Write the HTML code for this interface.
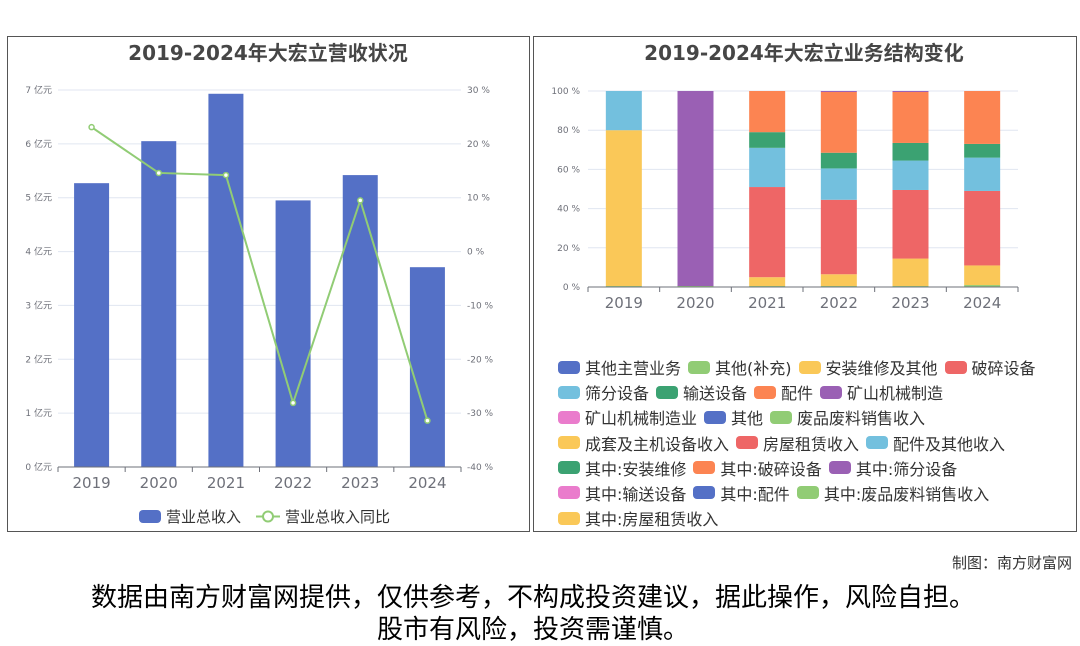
<!DOCTYPE html>
<html><head><meta charset="utf-8"><style>
body{margin:0;width:1080px;height:646px;background:#fff;font-family:"DejaVu Sans","Noto Sans CJK SC",sans-serif;position:relative;overflow:hidden}
.panel{position:absolute;border:1px solid #555;background:#fff}
.leg{position:absolute;left:558px;font-size:16px;color:#333;white-space:nowrap}
.li{display:inline-flex;align-items:center;margin-right:7px}
.sw{display:inline-block;width:22px;height:13px;border-radius:4px;margin-right:5px}
</style></head><body>
<div class="panel" style="left:7px;top:36px;width:521px;height:494px"></div>
<div class="panel" style="left:533px;top:36px;width:542px;height:494px"></div>
<svg id="c1" width="1080" height="646" style="position:absolute;left:0;top:0" font-family="DejaVu Sans, Noto Sans CJK SC, sans-serif"></svg>
<div class="leg" id="leg" style="top:355px"></div>
<div style="position:absolute;right:8px;top:552px;font-size:15px;color:#333">制图：南方财富网</div>
<div style="position:absolute;left:0;width:1066px;top:580px;text-align:center;font-size:26px;line-height:32px;color:#000;font-family:'Noto Sans CJK SC',sans-serif">数据由南方财富网提供，仅供参考，不构成投资建议，据此操作，风险自担。<br>股市有风险，投资需谨慎。</div>
<script>
const years=['2019','2020','2021','2022','2023','2024'];
const revenue=[5.27,6.05,6.93,4.95,5.42,3.71];
const growth=[23.1,14.6,14.2,-28.1,9.5,-31.4];
const leftTicks=[0,1,2,3,4,5,6,7];
const rightTicks=[-40,-30,-20,-10,0,10,20,30];
const sOther=[0.5,0.5,0.5,0.5,0.5,1];
const sInstall=[79.5,0,4.5,6,14,10];
const sCrush=[0,0,46,38,35,38];
const sScreen=[20,0,20,16,15,17];
const sConvey=[0,0,8,8,9,7];
const sParts=[0,0,21,31,26,27];
const sMining=[0,99.5,0,0.5,0.5,0];
const pctTicks=[0,20,40,60,80,100];
const legendNames=[['其他主营业务','其他(补充)','安装维修及其他','破碎设备'],['筛分设备','输送设备','配件','矿山机械制造'],['矿山机械制造业','其他','废品废料销售收入'],['成套及主机设备收入','房屋租赁收入','配件及其他收入'],['其中:安装维修','其中:破碎设备','其中:筛分设备'],['其中:输送设备','其中:配件','其中:废品废料销售收入'],['其中:房屋租赁收入']];
const pal=['#5470c6','#91cc75','#fac858','#ee6666','#73c0de','#3ba272','#fc8452','#9a60b4','#ea7ccc'];
const NS='http://www.w3.org/2000/svg';
const svg=document.getElementById('c1');
function mk(t,a,txt){const e=document.createElementNS(NS,t);for(const k in a)e.setAttribute(k,a[k]);if(txt!==undefined)e.textContent=txt;svg.appendChild(e);return e;}
let t=mk('text',{x:268,y:60,'text-anchor':'middle','font-size':20,'font-weight':'bold',fill:'#464646'},'2019-2024年大宏立营收状况');

t=mk('text',{x:804,y:60,'text-anchor':'middle','font-size':20,'font-weight':'bold',fill:'#464646'},'2019-2024年大宏立业务结构变化');

const L={x0:58,x1:461,y0:467,y1:90};
const yL=v=>L.y0-(v/7)*(L.y0-L.y1);
const yR=v=>L.y0-((v+40)/70)*(L.y0-L.y1);
const bw=(L.x1-L.x0)/years.length;
const xc=i=>L.x0+bw*(i+0.5);
leftTicks.forEach(v=>{const g=mk('line',{x1:L.x0,x2:L.x1,y1:yL(v),y2:yL(v),stroke:'#e0e6f1'});
const l=mk('text',{x:L.x0-6,y:yL(v)+3,'text-anchor':'end','font-size':9,fill:'#6e7079'},v+' 亿元');});
rightTicks.forEach(v=>{const l=mk('text',{x:L.x1+6,y:yR(v)+3,'font-size':9,fill:'#6e7079'},v+' %');});
revenue.forEach((v,i)=>{const r=mk('rect',{x:xc(i)-17.5,y:yL(v),width:35,height:L.y0-yL(v),fill:'#5470c6'});});
mk('line',{x1:L.x0,x2:L.x1,y1:L.y0,y2:L.y0,stroke:'#6e7079'});
years.forEach((y,i)=>{mk('line',{x1:L.x0+bw*i,x2:L.x0+bw*i,y1:L.y0,y2:L.y0+5,stroke:'#6e7079'});
const l=mk('text',{x:xc(i),y:L.y0+21,'text-anchor':'middle','font-size':15,fill:'#6e7079'},y);});
mk('line',{x1:L.x1,x2:L.x1,y1:L.y0,y2:L.y0+5,stroke:'#6e7079'});
const pl=mk('polyline',{points:growth.map((v,i)=>xc(i)+','+yR(v)).join(' '),fill:'none',stroke:'#91cc75','stroke-width':2});

growth.forEach((v,i)=>{const c=mk('circle',{cx:xc(i),cy:yR(v),r:2.5,fill:'#fff',stroke:'#91cc75','stroke-width':1.5});});
let r=mk('rect',{x:139,y:510,width:22,height:13,rx:4,fill:'#5470c6'});
t=mk('text',{x:166,y:522,'font-size':15,fill:'#333'},'营业总收入');
mk('line',{x1:256,x2:280,y1:516.5,y2:516.5,stroke:'#91cc75','stroke-width':2});
mk('circle',{cx:268,cy:516.5,r:5,fill:'#fff',stroke:'#91cc75','stroke-width':2});
t=mk('text',{x:285,y:522,'font-size':15,fill:'#333'},'营业总收入同比');
const R={x0:588,x1:1018,y0:287,y1:91};
const yP=v=>R.y0-(v/100)*(R.y0-R.y1);
const bw2=(R.x1-R.x0)/years.length;
const xc2=i=>R.x0+bw2*(i+0.5);
pctTicks.forEach(v=>{const g=mk('line',{x1:R.x0,x2:R.x1,y1:yP(v),y2:yP(v),stroke:'#e0e6f1'});
const l=mk('text',{x:R.x0-8,y:yP(v)+3,'text-anchor':'end','font-size':9,fill:'#6e7079'},v+' %');});
const stacks=[[sOther,'#91cc75','other'],[sInstall,'#fac858','install'],[sCrush,'#ee6666','crush'],[sScreen,'#73c0de','screen'],[sConvey,'#3ba272','convey'],[sParts,'#fc8452','parts'],[sMining,'#9a60b4','mining']];
years.forEach((y,i)=>{let acc=0;stacks.forEach(s=>{const v=s[0][i];if(v>0){const b=mk('rect',{x:xc2(i)-18,y:yP(acc+v),width:36,height:yP(acc)-yP(acc+v),fill:s[1]});}acc+=v;});});
mk('line',{x1:R.x0,x2:R.x1,y1:R.y0,y2:R.y0,stroke:'#6e7079'});
years.forEach((y,i)=>{mk('line',{x1:R.x0+bw2*i,x2:R.x0+bw2*i,y1:R.y0,y2:R.y0+5,stroke:'#6e7079'});
const l=mk('text',{x:xc2(i),y:R.y0+21,'text-anchor':'middle','font-size':15,fill:'#6e7079'},y);});
mk('line',{x1:R.x1,x2:R.x1,y1:R.y0,y2:R.y0+5,stroke:'#6e7079'});
const leg=document.getElementById('leg');let k=0;
legendNames.forEach(row=>{const d=document.createElement('div');d.style.height='25.2px';
row.forEach(n=>{const it=document.createElement('span');it.className='li';


it.innerHTML='<span class="sw" style="background:'+pal[k%9]+'"></span>'+n;k++;d.appendChild(it);});leg.appendChild(d);});
</script>
</body></html>
